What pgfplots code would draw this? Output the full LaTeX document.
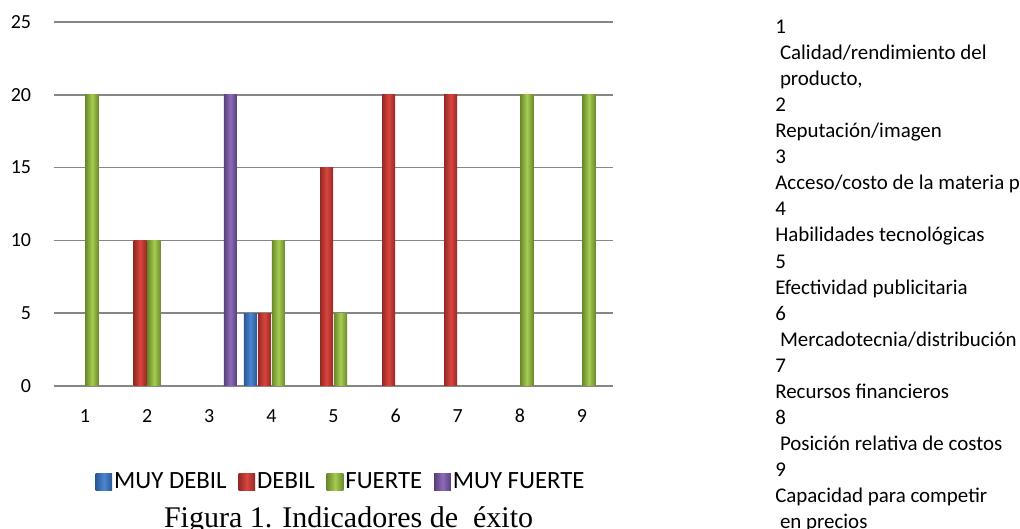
\documentclass[border=0pt]{standalone}
\usepackage{fontspec}
\setmainfont[Numbers=Lining]{Carlito}
\newfontfamily\timesfont{Liberation Serif}
\usepackage{pgfplots}
\pgfplotsset{compat=1.18}

\definecolor{gridgray}{HTML}{868686}
\definecolor{blueM}{HTML}{4A86CF}
\definecolor{blueD}{HTML}{2A5896}
\definecolor{redM}{HTML}{D8463F}
\definecolor{redD}{HTML}{962824}
\definecolor{greenM}{HTML}{A6CC52}
\definecolor{greenD}{HTML}{6A8A2A}
\definecolor{purM}{HTML}{8E6BBA}
\definecolor{purD}{HTML}{57407B}

\pgfplotsset{
  sMD/.style={draw=none, left color=blueD, right color=blueD, middle color=blueM},
  sD/.style={draw=none, left color=redD, right color=redD, middle color=redM},
  sF/.style={draw=none, left color=greenD, right color=greenD, middle color=greenM},
  sMF/.style={draw=none, left color=purD, right color=purD, middle color=purM},
}

\begin{document}
\begin{tikzpicture}
\path[use as bounding box] (0,0) rectangle (765bp,396.75bp);
\begin{axis}[
  at={(40.5bp,107.25bp)}, anchor=south west,
  scale only axis, width=419.25bp, height=273bp,
  xmin=0.5, xmax=9.5, ymin=0, ymax=25,
  xtick={1,...,9}, ytick={0,5,...,25},
  ymajorgrids, major grid style={draw=gridgray, line width=1.2bp},
  axis line style={draw=none}, major tick length=0pt,
  ybar, bar width=9.75bp,
  /pgf/number format/assume math mode=true,
  tick label style={font=\fontsize{15bp}{17bp}\selectfont, text=black},
  yticklabel style={anchor=east, inner sep=0pt, xshift=-17bp},
  xticklabel style={anchor=base, inner sep=0pt, yshift=-27.5bp},
  legend columns=4,
  legend style={at={(0.5135,-0.262)}, anchor=center, draw=none, fill=none,
    font=\fontsize{18.6bp}{21bp}\selectfont, inner sep=0pt,
    nodes={inner sep=1.5bp},
    /tikz/every even column/.append style={column sep=7.5bp}},
  legend image code/.code={\path[#1, draw=none] (0bp,-6.5bp) rectangle (12.5bp,6bp);},
]
% MUY DEBIL
\addplot[sMD, forget plot, bar shift=-15.75bp] coordinates {(4,5)};
% DEBIL
\addplot[sD, forget plot, bar shift=-5.25bp] coordinates {(2,10)};
\addplot[sD, forget plot, bar shift=-5.25bp] coordinates {(4,5)};
\addplot[sD, forget plot, bar shift=-5.25bp] coordinates {(5,15)};
\addplot[sD, forget plot, bar shift=-5.25bp] coordinates {(6,20)};
\addplot[sD, forget plot, bar shift=-5.25bp] coordinates {(7,20)};
% FUERTE
\addplot[sF, forget plot, bar shift=5.25bp] coordinates {(1,20)};
\addplot[sF, forget plot, bar shift=5.25bp] coordinates {(2,10)};
\addplot[sF, forget plot, bar shift=5.25bp] coordinates {(4,10)};
\addplot[sF, forget plot, bar shift=5.25bp] coordinates {(5,5)};
\addplot[sF, forget plot, bar shift=5.25bp] coordinates {(8,20)};
\addplot[sF, forget plot, bar shift=5.25bp] coordinates {(9,20)};
% MUY FUERTE
\addplot[sMF, forget plot, bar shift=15.75bp] coordinates {(3,20)};

\addlegendimage{sMD}\addlegendentry{MUY DEBIL}
\addlegendimage{sD}\addlegendentry{DEBIL}
\addlegendimage{sF}\addlegendentry{FUERTE}
\addlegendimage{sMF}\addlegendentry{MUY FUERTE}
\end{axis}

\node[anchor=base, font=\timesfont\fontsize{22.5bp}{27bp}\selectfont] at (261.4bp,1.2bp)
  {Figura 1. Indicadores de\ \ éxito};

\begin{scope}[every node/.style={anchor=base west, inner sep=0pt, font=\fontsize{15.7bp}{19bp}\selectfont}]
\node at (581.25bp,371.55bp) {1};
\node at (581.25bp,352.01bp) {\hspace*{0.226em}Calidad/rendimiento del};
\node at (581.25bp,332.48bp) {\hspace*{0.226em}producto,};
\node at (581.25bp,312.94bp) {2};
\node at (581.25bp,293.40bp) {Reputación/imagen};
\node at (581.25bp,273.86bp) {3};
\node at (581.25bp,254.33bp) {Acceso/costo de la materia prima};
\node at (581.25bp,234.79bp) {4};
\node at (581.25bp,215.25bp) {Habilidades tecnológicas};
\node at (581.25bp,195.71bp) {5};
\node at (581.25bp,176.18bp) {Efectividad publicitaria};
\node at (581.25bp,156.64bp) {6};
\node at (581.25bp,137.10bp) {\hspace*{0.226em}Mercadotecnia/distribución};
\node at (581.25bp,117.56bp) {7};
\node at (581.25bp,98.03bp) {Recursos financieros};
\node at (581.25bp,78.49bp) {8};
\node at (581.25bp,58.95bp) {\hspace*{0.226em}Posición relativa de costos};
\node at (581.25bp,39.41bp) {9};
\node at (581.25bp,19.88bp) {Capacidad para competir};
\node at (581.25bp,0.34bp) {\hspace*{0.226em}en precios};
\end{scope}
\end{tikzpicture}
\end{document}
